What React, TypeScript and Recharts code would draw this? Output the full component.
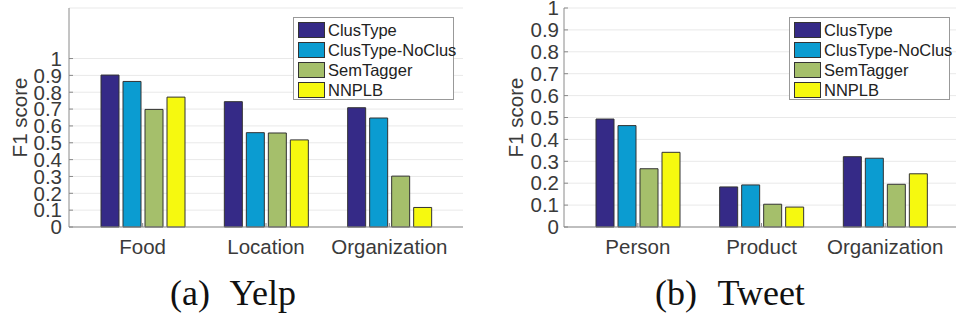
import React from 'react';
import { BarChart, Bar, XAxis, YAxis, CartesianGrid } from 'recharts';

const FONT = '"Liberation Sans", Arial, sans-serif';
const AXIS = '#8a8a8a';
const TEXT = '#3a3a3a';

const seriesNames = ['ClusType', 'ClusType-NoClus', 'SemTagger', 'NNPLB'];
const seriesKeys = ['clusType', 'noClus', 'semTagger', 'nnplb'];
const seriesColors = ['#352a87', '#0b9cd1', '#a5bf6b', '#f6f90f'];

const yTicks = [0, 0.1, 0.2, 0.3, 0.4, 0.5, 0.6, 0.7, 0.8, 0.9, 1];

// (a) Yelp
const yelpCategories = ['Food', 'Location', 'Organization'];
const yelpClusType = [0.902, 0.744, 0.708];
const yelpNoClus = [0.864, 0.56, 0.647];
const yelpSemTagger = [0.698, 0.558, 0.302];
const yelpNNPLB = [0.771, 0.517, 0.116];

// (b) Tweet
const tweetCategories = ['Person', 'Product', 'Organization'];
const tweetClusType = [0.493, 0.183, 0.321];
const tweetNoClus = [0.463, 0.192, 0.314];
const tweetSemTagger = [0.266, 0.104, 0.195];
const tweetNNPLB = [0.341, 0.091, 0.243];

const buildRows = (categories: string[], columns: number[][]) =>
  categories.map((name, i) => {
    const row: Record<string, string | number> = { name };
    seriesKeys.forEach((key, j) => {
      row[key] = columns[j][i];
    });
    return row;
  });

const yelpData = buildRows(yelpCategories, [yelpClusType, yelpNoClus, yelpSemTagger, yelpNNPLB]);
const tweetData = buildRows(tweetCategories, [tweetClusType, tweetNoClus, tweetSemTagger, tweetNNPLB]);

const LegendBox = ({ left }: { left: number }) => (
  <div
    style={{
      position: 'absolute',
      left,
      top: 17,
      width: 159,
      height: 81,
      border: '1px solid #999',
      background: '#fff',
    }}
  >
    {seriesNames.map((name, i) => (
      <div key={name} style={{ display: 'flex', alignItems: 'center', height: 20, marginTop: i === 0 ? 2 : 0, paddingLeft: 4 }}>
        <div style={{ width: 25, height: 14, background: seriesColors[i], border: '1px solid #333', flex: 'none' }} />
        <span style={{ marginLeft: 3, fontFamily: FONT, fontSize: 16.5, color: '#222', whiteSpace: 'nowrap' }}>{name}</span>
      </div>
    ))}
  </div>
);

interface PanelProps {
  left: number;
  data: Record<string, string | number>[];
  yMax: number;
  yAxisWidth: number;
  rightMargin: number;
  tickGap: number;
  yLabelX: number;
  legendLeft: number;
  caption: string;
  captionCenter: number;
}

const Panel = ({ left, data, yMax, yAxisWidth, rightMargin, tickGap, yLabelX, legendLeft, caption, captionCenter }: PanelProps) => {
  const yLabel = (props: any) => {
    const vb = props.viewBox;
    const x = vb.x + yLabelX;
    const y = vb.y + vb.height / 2;
    return (
      <text x={x} y={y} transform={`rotate(-90 ${x} ${y})`} textAnchor="middle" fontSize={20.5} fontFamily={FONT} fill={TEXT}>
        F1 score
      </text>
    );
  };

  return (
    <>
      <div style={{ position: 'absolute', left, top: 0 }}>
        <BarChart
          width={480}
          height={322}
          data={data}
          margin={{ top: 8, right: rightMargin, bottom: 0, left: 0 }}
          barSize={18}
          barGap={4}
        >
          <CartesianGrid vertical={false} stroke="#e9e9e9" />
          <XAxis
            dataKey="name"
            height={95}
            padding={{ left: 12, right: 12 }}
            interval={0}
            axisLine={{ stroke: AXIS }}
            tickLine={{ stroke: AXIS }}
            tickSize={-4}
            tickMargin={16}
            tick={{ fill: TEXT, fontSize: 20.5, fontFamily: FONT }}
          />
          <XAxis
            xAxisId="top"
            orientation="top"
            dataKey="name"
            height={0}
            padding={{ left: 12, right: 12 }}
            interval={0}
            axisLine={{ stroke: AXIS }}
            tickLine={{ stroke: AXIS }}
            tickSize={-4}
            tickFormatter={() => ''}
          />
          <YAxis
            width={yAxisWidth}
            domain={[0, yMax]}
            ticks={yTicks}
            interval={0}
            axisLine={{ stroke: AXIS }}
            tickLine={{ stroke: AXIS }}
            tickSize={-4}
            tickMargin={tickGap + 4}
            tick={{ fill: TEXT, fontSize: 20.5, fontFamily: FONT }}
            label={{ content: yLabel }}
          />
          <YAxis
            yAxisId="right"
            orientation="right"
            width={0}
            domain={[0, yMax]}
            ticks={yTicks}
            interval={0}
            axisLine={{ stroke: AXIS }}
            tickLine={{ stroke: AXIS }}
            tickSize={-4}
            tickFormatter={() => ''}
          />
          {seriesKeys.map((key, i) => (
            <Bar
              key={key}
              dataKey={key}
              name={seriesNames[i]}
              fill={seriesColors[i]}
              stroke="#333"
              strokeWidth={1}
              isAnimationActive={false}
            />
          ))}
        </BarChart>
      </div>
      <LegendBox left={legendLeft} />
      <div
        style={{
          position: 'absolute',
          left: captionCenter - 150,
          width: 300,
          top: 275,
          textAlign: 'center',
          fontFamily: '"Liberation Serif", "Times New Roman", serif',
          fontSize: 36,
          lineHeight: 1,
          wordSpacing: 12,
          color: '#111',
        }}
      >
        {caption}
      </div>
    </>
  );
};

export default function App() {
  return (
    <div style={{ position: 'absolute', left: 0, top: 0, width: 956, height: 322, overflow: 'hidden', background: '#fff' }}>
      <Panel
        left={0}
        data={yelpData}
        yMax={1.3}
        yAxisWidth={69}
        rightMargin={17}
        tickGap={7}
        yLabelX={27}
        legendLeft={293}
        caption="(a) Yelp"
        captionCenter={233}
      />
      <Panel
        left={480}
        data={tweetData}
        yMax={1}
        yAxisWidth={84}
        rightMargin={1}
        tickGap={5}
        yLabelX={43}
        legendLeft={789}
        caption="(b) Tweet"
        captionCenter={730}
      />
    </div>
  );
}
